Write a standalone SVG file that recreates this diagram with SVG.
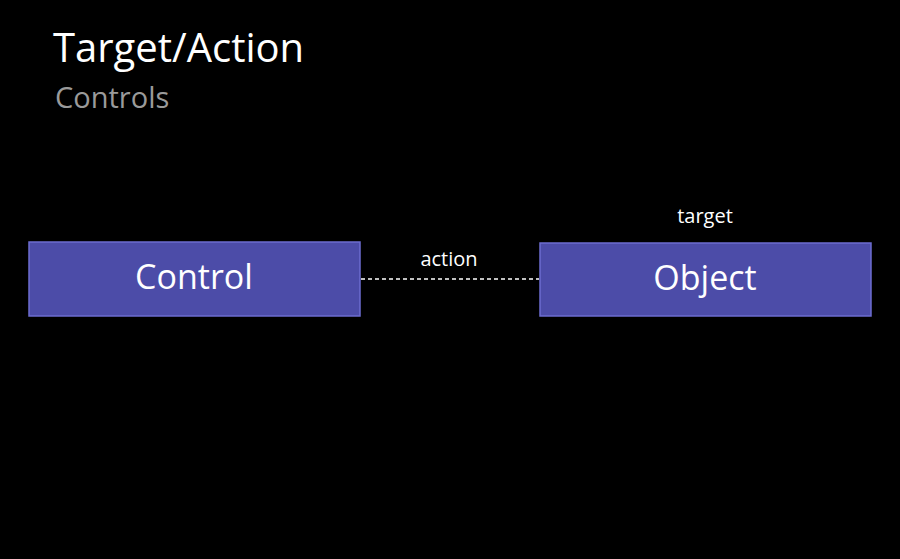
<svg xmlns="http://www.w3.org/2000/svg" width="900" height="559" viewBox="0 0 900 559">
<style>
text{font-family:"Open Sans","Noto Sans",sans-serif;}
.box{fill:#4c4ca8;stroke:#6c6cd0;stroke-width:1.5;}
.lbl{fill:#ffffff;font-size:34px;text-anchor:middle;}
.small{fill:#ffffff;font-size:20px;text-anchor:middle;}
</style>
<rect width="900" height="559" fill="#000"/>
<text x="53" y="62" fill="#ffffff" font-size="40">Target/Action</text>
<text x="55" y="108" fill="#9a9a9a" font-size="29">Controls</text>
<g id="connectors">
<line x1="361" y1="279" x2="539" y2="279" stroke="#ffffff" stroke-width="1.6" stroke-dasharray="4,3"/>
<text class="small" x="449" y="266">action</text>
</g>
<g id="control">
<rect class="box" x="29" y="242" width="331" height="74"/>
<text class="lbl" x="194" y="289">Control</text>
</g>
<g id="object">
<text class="small" x="705" y="223">target</text>
<rect class="box" x="540" y="243" width="331" height="73"/>
<text class="lbl" x="705" y="290">Object</text>
</g>
</svg>
